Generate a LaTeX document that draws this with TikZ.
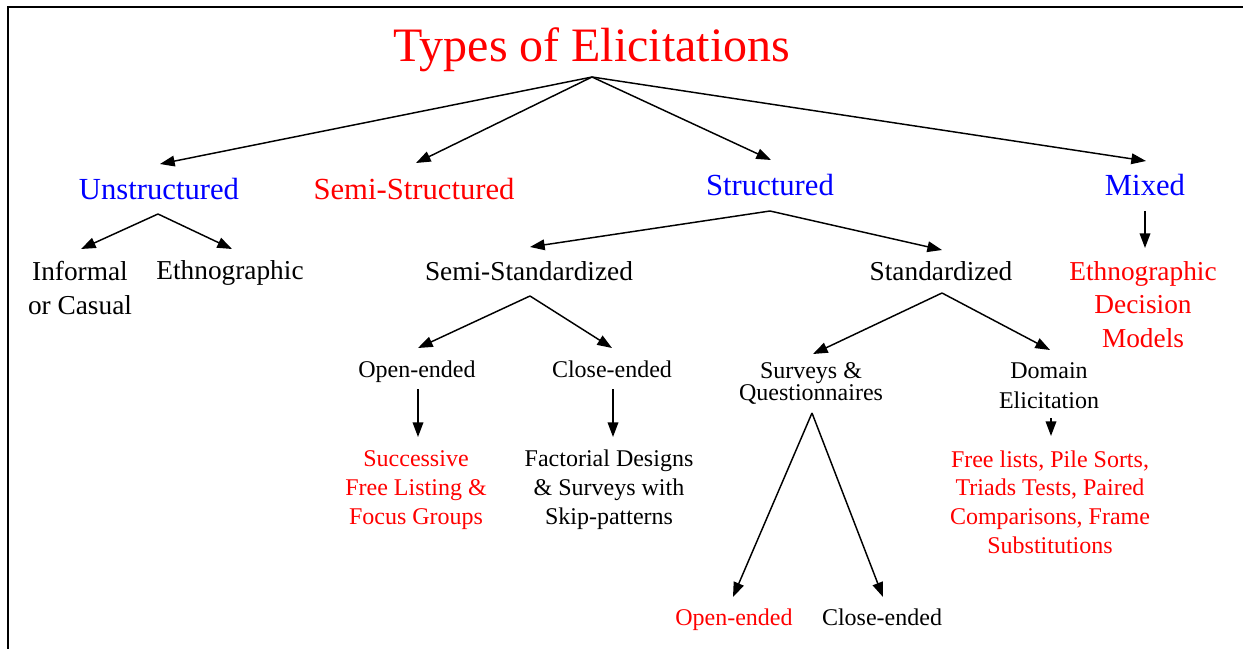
\documentclass[tikz,border=0pt]{standalone}
\usepackage{fontspec}
\setmainfont{Liberation Serif}
\usetikzlibrary{arrows.meta,calc}
\definecolor{tred}{RGB}{255,0,0}
\definecolor{tblue}{RGB}{0,0,255}
\begin{document}
\begin{tikzpicture}[x=0.75pt,y=-0.75pt,
  every node/.style={inner sep=0pt,outer sep=0pt,anchor=base,align=center},
  ttl/.style={font=\fontsize{36}{40}\selectfont,text=tred},
  lone/.style={font=\fontsize{23}{27}\selectfont},
  ltwo/.style={font=\fontsize{20.5}{25}\selectfont},
  lthree/.style={font=\fontsize{18}{21.4}\selectfont},
  arr/.style={draw=black,line width=1.1pt,-{Triangle[length=11pt,width=8pt]}},
  frame/.style={draw=black,line width=1.5pt}]
\useasboundingbox (0,0) rectangle (1243,649);
\draw[frame] (7.5,649) -- (7.5,7.5) -- (1243,7.5);
% title
\node[ttl] (title) at (592,62) {Types of Elicitations};
% level 1
\node[lone,text=tblue] (unstr) at (159,200) {Unstructured};
\node[lone,text=tred] (semistr) at (414,200) {Semi-Structured};
\node[lone,text=tblue] (str) at (770,196) {Structured};
\node[lone,text=tblue] (mixed) at (1145,196) {Mixed};
% level 2 (multi-line nodes are placed at the baseline of their last line)
\node[ltwo,font=\fontsize{20.5}{26}\selectfont] (inf) at (80,315) {Informal\\or Casual};
\node[ltwo] (eth) at (230,280) {Ethnographic};
\node[ltwo] (semistd) at (529,281) {Semi-Standardized};
\node[ltwo] (std) at (941,281) {Standardized};
\node[ltwo,text=tred,font=\fontsize{20.5}{25}\selectfont] (edm) at (1143,347) {Ethnographic\\Decision\\Models};
% level 3
\node[lthree] (open) at (417,377) {Open-ended};
\node[lthree] (close) at (612,377) {Close-ended};
\node[lthree] (surv) at (811,400) {Surveys \&\\[-5pt]Questionnaires};
\node[lthree,font=\fontsize{18}{22.5}\selectfont] (dom) at (1049,408) {Domain\\Elicitation};
\node[lthree,text=tred] (succ) at (416,524) {Successive\\Free Listing \&\\Focus Groups};
\node[lthree] (fact) at (609,524) {Factorial Designs\\\& Surveys with\\Skip-patterns};
\node[lthree,text=tred] (free) at (1050,553) {Free lists, Pile Sorts,\\Triads Tests, Paired\\Comparisons, Frame\\Substitutions};
\node[lthree,text=tred] (sopen) at (734,625) {Open-ended};
\node[lthree] (sclose) at (882,625) {Close-ended};
% connectors
\coordinate (tapex) at ($(title.base)+(0,15)$);
\draw[arr] (tapex) -- ($(unstr.base)+(1,-36)$);
\draw[arr] (tapex) -- ($(semistr.base)+(2,-37)$);
\draw[arr] (tapex) -- ($(str.base)+(1,-36)$);
\draw[arr] (tapex) -- ($(mixed.base)+(1,-35)$);
\coordinate (uapex) at ($(unstr.base)+(-1,14)$);
\draw[arr] (uapex) -- ($(inf.base)+(1,-66)$);
\draw[arr] (uapex) -- ($(eth.base)+(2,-31)$);
\coordinate (sapex) at ($(str.base)+(0,15)$);
\draw[arr] (sapex) -- ($(semistd.base)+(1,-34)$);
\draw[arr] (sapex) -- ($(std.base)+(1,-31)$);
\draw[arr] ($(mixed.base)+(0,15)$) -- ($(edm.base)+(2,-99)$);
\coordinate (ssapex) at ($(semistd.base)+(1,15)$);
\draw[arr] (ssapex) -- ($(open.base)+(1,-29)$);
\draw[arr] (ssapex) -- ($(close.base)+(0,-29)$);
\coordinate (stapex) at ($(std.base)+(1,12)$);
\draw[arr] (stapex) -- ($(surv.base)+(2,-46)$);
\draw[arr] (stapex) -- ($(dom.base)+(1,-58)$);
\draw[arr] ($(open.base)+(1,12)$) -- ($(succ.base)+(2,-87)$);
\draw[arr] ($(close.base)+(1,12)$) -- ($(fact.base)+(4,-87)$);
\coordinate (svapex) at ($(surv.base)+(1,13)$);
\draw[arr] (svapex) -- ($(sopen.base)+(-1,-28)$);
\draw[arr] (svapex) -- ($(sclose.base)+(1,-28)$);
\draw[arr] ($(dom.base)+(2,10)$) -- ($(free.base)+(1,-117)$);
\end{tikzpicture}
\end{document}
